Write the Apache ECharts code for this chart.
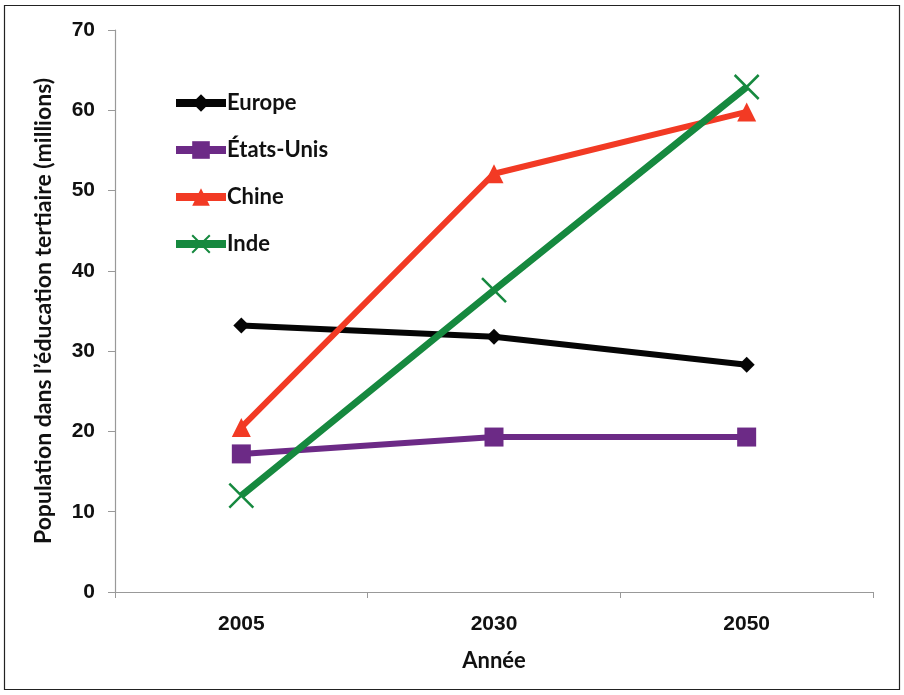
<!DOCTYPE html>
<html>
<head>
<meta charset="utf-8">
<script src="https://cdn.jsdelivr.net/npm/echarts@6/dist/echarts.min.js"></script>
<style>
  html, body { margin: 0; padding: 0; background: #fff; }
  #chart { width: 904px; height: 695px; }
</style>
</head>
<body>
<div id="chart"></div>
<script>
// Categories and series values (millions of people with tertiary education)
const years = ['2005', '2030', '2050'];
const europe = [33.2, 31.8, 28.3];
const etatsUnis = [17.2, 19.3, 19.3];
const chine = [20.5, 52.1, 59.8];
const inde = [12.0, 37.6, 62.9];
const yTicks = { min: 0, max: 70, interval: 10 };

const crossPath = 'path://M0,0L10,10M10,0L0,10';

const chart = echarts.init(document.getElementById('chart'), null, { renderer: 'canvas' });

function lineSeries(name, data, color, symbol, size, width, extraItem) {
  return {
    name: name,
    type: 'line',
    data: data,
    symbol: symbol,
    symbolSize: size,
    lineStyle: { color: color, width: width },
    itemStyle: Object.assign({ color: color }, extraItem || {}),
    emphasis: { disabled: true },
    z: 3
  };
}

chart.setOption({
  animation: false,
  backgroundColor: '#fff',
  graphic: [{
    type: 'rect',
    shape: { x: 4.5, y: 5.5, width: 895, height: 684 },
    style: { fill: 'none', stroke: '#222', lineWidth: 1.2 },
    silent: true
  }],
  grid: { left: 115, right: 31, top: 30, bottom: 103, containLabel: false },
  legend: {
    orient: 'vertical',
    left: 172,
    top: 92,
    padding: 0,
    itemWidth: 50,
    itemHeight: 22,
    itemGap: 25,
    lineStyle: { width: 8 },
    textStyle: { fontFamily: 'Lato', fontWeight: 'bold', fontSize: 22, color: '#111', padding: [0, 0, 0, -4] },
    data: ['Europe', 'États-Unis', 'Chine', 'Inde']
  },
  xAxis: {
    type: 'category',
    data: years,
    boundaryGap: true,
    name: 'Année',
    nameLocation: 'middle',
    nameGap: 58,
    nameTextStyle: { fontFamily: 'Lato', fontWeight: 'bold', fontSize: 22, color: '#111' },
    axisLine: { lineStyle: { color: '#999', width: 1.2 } },
    axisTick: { show: true, length: 6, alignWithLabel: false, lineStyle: { color: '#999' } },
    axisLabel: { fontFamily: 'Liberation Sans', fontWeight: 'bold', fontSize: 21, color: '#111', margin: 22 },
    splitLine: { show: false }
  },
  yAxis: {
    type: 'value',
    min: yTicks.min,
    max: yTicks.max,
    interval: yTicks.interval,
    name: 'Population dans l\u2019éducation tertiaire (millions)',
    nameLocation: 'middle',
    nameGap: 60,
    nameTextStyle: { fontFamily: 'Lato', fontWeight: 'bold', fontSize: 23, color: '#111' },
    axisLine: { show: true, lineStyle: { color: '#999', width: 1.2 } },
    axisTick: { show: true, length: 7, lineStyle: { color: '#999' } },
    axisLabel: { fontFamily: 'Liberation Sans', fontWeight: 'bold', fontSize: 21, color: '#111', margin: 20 },
    splitLine: { show: false }
  },
  series: [
    lineSeries('Europe', europe, '#050505', 'diamond', 16, 6),
    lineSeries('États-Unis', etatsUnis, '#6c2a86', 'rect', 19, 6),
    lineSeries('Chine', chine, '#f23a24', 'triangle', 19, 6),
    lineSeries('Inde', inde, '#16893f', crossPath, 24, 7, { borderColor: '#16893f', borderWidth: 2.5 })
  ]
});
</script>
</body>
</html>
